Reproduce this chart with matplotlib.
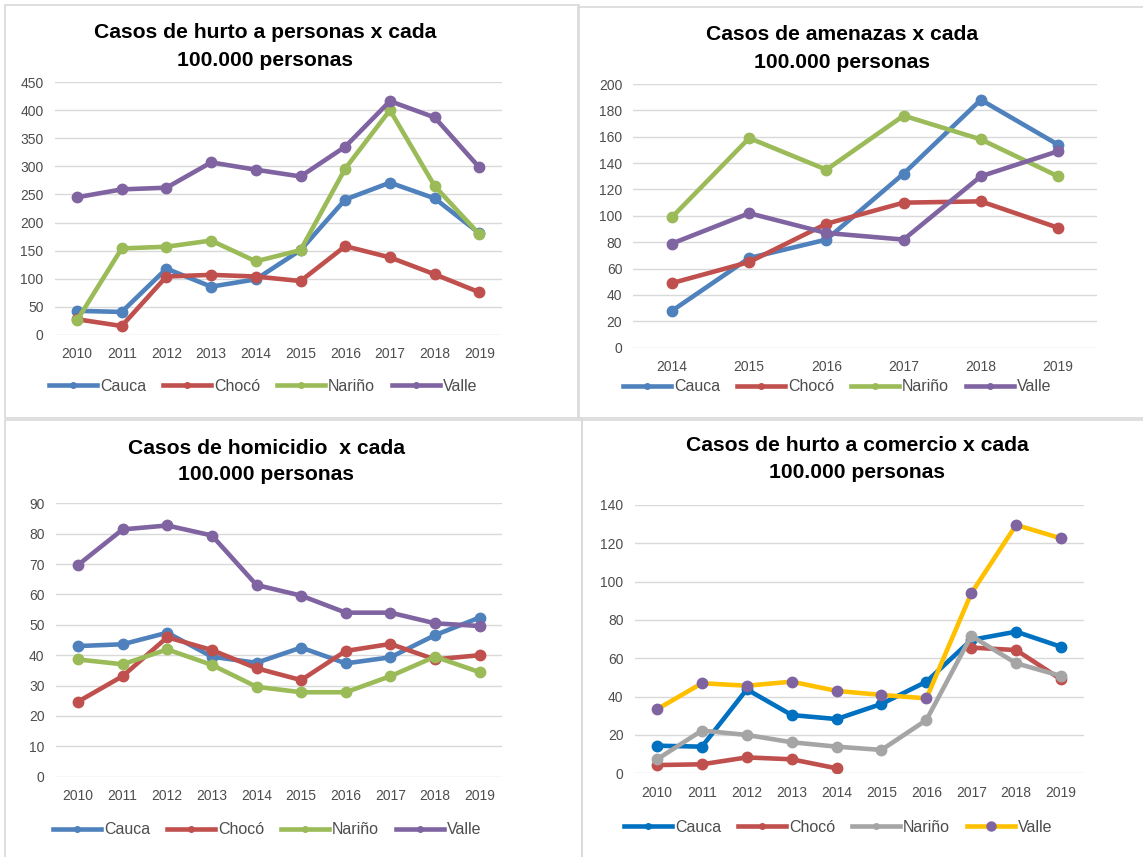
import numpy as np
import matplotlib
matplotlib.use("Agg")
import matplotlib.pyplot as plt
from matplotlib.lines import Line2D
from matplotlib.patches import Rectangle

plt.rcParams['font.family'] = ['Liberation Sans', 'DejaVu Sans']

# ---------------- data ----------------
years_a = ["2010", "2011", "2012", "2013", "2014", "2015", "2016", "2017", "2018", "2019"]
years_b = ["2014", "2015", "2016", "2017", "2018", "2019"]
series_names = ["Cauca", "Chocó", "Nariño", "Valle"]

# Casos de hurto a personas
hp_cauca = [43, 41, 118, 86, 99, 151, 241, 271, 243, 181]
hp_choco = [28, 16, 104, 107, 104, 96, 158, 138, 108, 76]
hp_narino = [26, 154, 157, 168, 131, 151, 296, 400, 265, 179]
hp_valle = [245, 259, 262, 307, 294, 282, 335, 416, 387, 298]

# Casos de amenazas
am_cauca = [28, 68, 82, 132, 188, 154]
am_choco = [49, 65, 94, 110, 111, 91]
am_narino = [99, 159, 135, 176, 158, 130]
am_valle = [79, 102, 87, 82, 130, 149]

# Casos de homicidio
ho_cauca = [43, 43.6, 47.4, 39.5, 37.5, 42.5, 37.3, 39.3, 46.6, 52.4]
ho_choco = [24.7, 33.1, 45.9, 41.7, 35.7, 31.8, 41.4, 43.7, 38.6, 40]
ho_narino = [38.6, 37, 41.9, 36.8, 29.6, 27.8, 27.8, 33.1, 39.5, 34.4]
ho_valle = [69.7, 81.4, 82.7, 79.4, 63.1, 59.6, 54, 54, 50.5, 49.6]

# Casos de hurto a comercio
hc_cauca = [14.4, 13.9, 43.8, 30.4, 28.3, 36.2, 47.8, 69.6, 73.9, 66]
hc_choco = [4.3, 4.7, 8.3, 7.3, 2.6, np.nan, np.nan, 65.6, 64.3, 49]
hc_narino = [7.3, 22.3, 20, 16.2, 13.9, 12.2, 27.8, 71.7, 57.4, 50.8]
hc_valle = [33.4, 47, 45.7, 47.8, 43, 40.9, 39.1, 93.9, 129.6, 122.6]

titles = [
    ("Casos de hurto a personas x cada", "100.000 personas"),
    ("Casos de amenazas x cada", "100.000 personas"),
    ("Casos de homicidio  x cada", "100.000 personas"),
    ("Casos de hurto a comercio x cada", "100.000 personas"),
]

# ---------------- style ----------------
W, H = 1143, 857
fig = plt.figure(figsize=(W / 100, H / 100), dpi=100)
fig.patch.set_facecolor("white")

C_STD = ["#4F81BD", "#C0504D", "#9BBB59", "#8064A2"]
C_COM_LINE = ["#0070C0", "#C0504D", "#A5A5A5", "#FFC000"]
C_COM_MARK = ["#0070C0", "#C0504D", "#A5A5A5", "#8064A2"]
GRID = "#D9D9D9"
TXT = "#4D4D4D"


def rect(l, r, top, bottom):
    return [l / W, 1 - bottom / H, (r - l) / W, (bottom - top) / H]


# panel borders
for (l, t, r, b) in [(5, 5, 579, 418), (578, 7, 1148, 418), (5, 420, 582, 862), (582, 420, 1148, 862)]:
    fig.add_artist(Rectangle((l / W, 1 - b / H), (r - l) / W, (b - t) / H,
                             transform=fig.transFigure, fill=False,
                             edgecolor=GRID, linewidth=1.2))


def panel(ax_rect, cats, data, ymax, ystep, line_cols, mark_cols, title, title_xy,
          legend_xy, legend_mark_sizes):
    ax = fig.add_axes(rect(*ax_rect))
    x = np.arange(len(cats))
    for vals, lc, mc in zip(data, line_cols, mark_cols):
        ax.plot(x, vals, color=lc, linewidth=3.3, marker="o", markersize=7.5,
                markerfacecolor=mc, markeredgecolor=mc, solid_capstyle="round",
                solid_joinstyle="round")
    ax.set_xlim(-0.5, len(cats) - 0.5)
    ax.set_ylim(0, ymax)
    ax.set_yticks(np.arange(0, ymax + ystep / 2, ystep))
    ax.set_xticks(x)
    ax.set_xticklabels(cats)
    ax.grid(axis="y", color=GRID, linewidth=1.0)
    ax.set_axisbelow(True)
    for s in ax.spines.values():
        s.set_visible(False)
    ax.tick_params(length=0, labelsize=10, labelcolor=TXT)
    ax.tick_params(axis="y", pad=8)
    ax.tick_params(axis="x", pad=9)
    # title
    tx, ty1, ty2 = title_xy
    fig.text(tx / W, 1 - ty1 / H, title[0], ha="center", va="center",
             fontsize=15.2, fontweight="bold", color="black")
    fig.text(tx / W, 1 - ty2 / H, title[1], ha="center", va="center",
             fontsize=15.2, fontweight="bold", color="black")
    # legend
    handles = [Line2D([], [], color=lc, linewidth=3.3, marker="o", markersize=ms,
                      markerfacecolor=mc, markeredgecolor=mc)
               for lc, mc, ms in zip(line_cols, mark_cols, legend_mark_sizes)]
    leg = ax.legend(handles, series_names, loc="center left",
                    bbox_to_anchor=(legend_xy[0] / W, 1 - legend_xy[1] / H),
                    bbox_transform=fig.transFigure, ncol=4, frameon=False,
                    borderpad=0, borderaxespad=0, handlelength=3.0,
                    handletextpad=0.2, columnspacing=1.05, fontsize=11.5)
    for t in leg.get_texts():
        t.set_color(TXT)
    return ax


panel((54.7, 501.7, 82, 335), years_a, [hp_cauca, hp_choco, hp_narino, hp_valle],
      450, 50, C_STD, C_STD, titles[0], (265, 33, 60), (49, 386), [4, 4, 4, 4])
panel((633.4, 1096.6, 84, 347.7), years_b, [am_cauca, am_choco, am_narino, am_valle],
      200, 20, C_STD, C_STD, titles[1], (842, 35, 62), (623, 387), [4, 4, 4, 4])
panel((55.7, 502, 503.3, 776.7), years_a, [ho_cauca, ho_choco, ho_narino, ho_valle],
      90, 10, C_STD, C_STD, titles[2], (266, 448, 475), (53, 830), [4, 4, 4, 4])
panel((634.6, 1083.5, 505, 773.3), years_a, [hc_cauca, hc_choco, hc_narino, hc_valle],
      140, 20, C_COM_LINE, C_COM_MARK, titles[3], (857, 445, 472), (624, 827), [4, 4, 4, 6.5])

fig.savefig("out.png", dpi=100, facecolor="white")
